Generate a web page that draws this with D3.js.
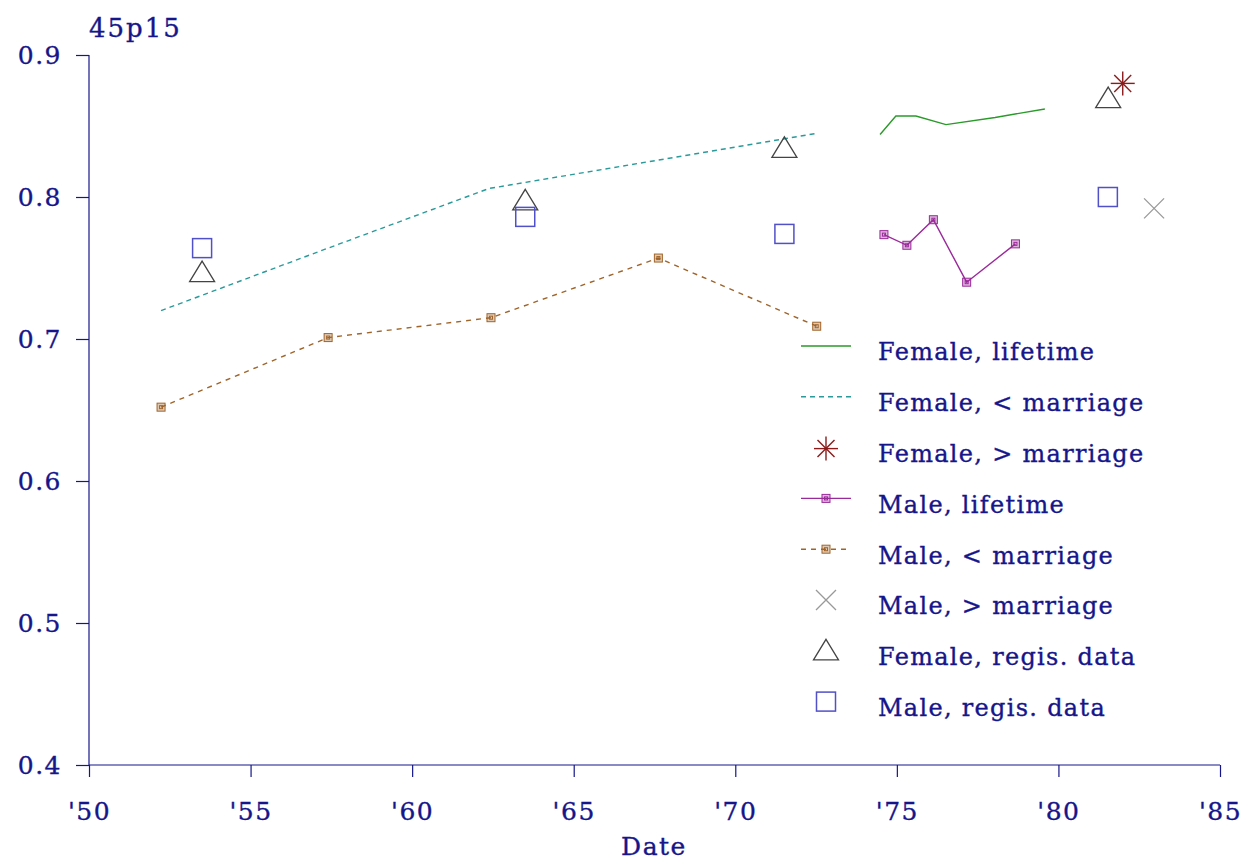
<!DOCTYPE html>
<html>
<head>
<meta charset="utf-8">
<script src="https://cdn.jsdelivr.net/npm/d3@7"></script>
<style>
  html, body { margin: 0; padding: 0; background: #fff; }
  svg text { font-family: "DejaVu Serif", "Liberation Serif", serif; fill: #16168a;
             stroke: #16168a; stroke-width: 0.35px; }
</style>
</head>
<body>
<svg id="chart" width="1247" height="862"></svg>
<script>
// ---- data: probability 45p15 by date ----
const femaleLifetimeYears  = [1974.48, 1974.97, 1975.59, 1976.52, 1978.04, 1979.58];
const femaleLifetimeValues = [0.844, 0.857, 0.857, 0.851, 0.856, 0.862];

const femaleBeforeYears  = [1952.23, 1957.40, 1962.38, 1967.62, 1972.56];
const femaleBeforeValues = [0.720, 0.764, 0.806, 0.826, 0.845];

const femaleAfterYears  = [1981.99];
const femaleAfterValues = [0.880];

const maleLifetimeYears  = [1974.60, 1975.31, 1976.13, 1977.16, 1978.67];
const maleLifetimeValues = [0.7735, 0.766, 0.784, 0.740, 0.767];

const maleBeforeYears  = [1952.23, 1957.40, 1962.44, 1967.62, 1972.52];
const maleBeforeValues = [0.652, 0.701, 0.715, 0.757, 0.709];

const maleAfterYears  = [1982.96];
const maleAfterValues = [0.792];

const femaleRegisYears  = [1953.5, 1963.5, 1971.52, 1981.54];
const femaleRegisValues = [0.7475, 0.798, 0.835, 0.870];

const maleRegisYears  = [1953.5, 1963.5, 1971.52, 1981.53];
const maleRegisValues = [0.764, 0.786, 0.774, 0.800];

const xTicks = [1950, 1955, 1960, 1965, 1970, 1975, 1980, 1985];
const yTicks = [0.4, 0.5, 0.6, 0.7, 0.8, 0.9];

const legendLabels = [
  "Female, lifetime", "Female, < marriage", "Female, > marriage",
  "Male, lifetime", "Male, < marriage", "Male, > marriage",
  "Female, regis. data", "Male, regis. data"
];

// ---- drawing ----
const navy = "#16168a";
const col = {
  fLife: "#2a9a2a", fBefore: "#2a9a9a", fAfter: "#8b1a1a",
  mLife: "#9a2a9a", mBefore: "#a0642a", mAfter: "#999999",
  fRegis: "#444444", mRegis: "#5050c8"
};

const svg = d3.select("#chart");
const x = d3.scaleLinear().domain([1950, 1985]).range([89, 1220]);
const y = d3.scaleLinear().domain([0.4, 0.9]).range([765, 55]);

const zip = (xs, vs) => xs.map((d, i) => [d, vs[i]]);
const line = d3.line().x(d => x(d[0])).y(d => y(d[1]));

// axes
const xAxis = svg.append("g").attr("transform", "translate(0,765)")
  .call(d3.axisBottom(x).tickValues(xTicks).tickSize(12).tickPadding(25)
    .tickFormat(d => "'" + String(d % 100).padStart(2, "0")));
const yAxis = svg.append("g").attr("transform", "translate(89,0)")
  .call(d3.axisLeft(y).tickValues(yTicks).tickSize(13).tickPadding(14)
    .tickFormat(d3.format(".1f")));
[xAxis, yAxis].forEach(g => {
  g.select(".domain").attr("stroke", navy).attr("stroke-width", 1.2);
  g.selectAll(".tick line").attr("stroke", navy).attr("stroke-width", 1.2);
  g.selectAll(".tick text").style("font-size", "25px").attr("fill", navy)
    .style("letter-spacing", "1.5px")
    .style("font-family", '"DejaVu Serif", serif');
});
xAxis.select(".domain").attr("d", "M89,0H1220");
yAxis.select(".domain").attr("d", "M0,55V765");

svg.append("text").attr("x", 654).attr("y", 855).attr("text-anchor", "middle")
  .style("font-size", "25px").style("letter-spacing", "1.5px").text("Date");
svg.append("text").attr("x", 89).attr("y", 37)
  .style("font-size", "26px").style("letter-spacing", "2px").text("45p15");

// marker helpers
function boxMarker(g, cx, cy, c) {
  g.append("rect").attr("x", cx - 4).attr("y", cy - 4).attr("width", 8).attr("height", 8)
    .attr("fill", c).attr("fill-opacity", 0.35).attr("stroke", c).attr("stroke-width", 1);
  g.append("rect").attr("x", cx - 1.5).attr("y", cy - 1.5).attr("width", 3).attr("height", 3)
    .attr("fill", "none").attr("stroke", c).attr("stroke-width", 1);
}
function triangle(g, cx, cy, c) {
  g.append("path")
    .attr("d", `M${cx},${cy - 10.5}L${cx + 12.5},${cy + 10}L${cx - 12.5},${cy + 10}Z`)
    .attr("fill", "none").attr("stroke", c).attr("stroke-width", 1.3);
}
function square(g, cx, cy, c) {
  g.append("rect").attr("x", cx - 9.5).attr("y", cy - 9.5).attr("width", 19).attr("height", 19)
    .attr("fill", "none").attr("stroke", c).attr("stroke-width", 1.5);
}
function star(g, cx, cy, c) {
  const r = 12;
  [0, 45, 90, 135].forEach(a => {
    const t = a * Math.PI / 180;
    g.append("line").attr("x1", cx - r * Math.cos(t)).attr("y1", cy - r * Math.sin(t))
      .attr("x2", cx + r * Math.cos(t)).attr("y2", cy + r * Math.sin(t))
      .attr("stroke", c).attr("stroke-width", 1.4);
  });
}
function cross(g, cx, cy, c) {
  const r = 10;
  g.append("path").attr("d", `M${cx - r},${cy - r}L${cx + r},${cy + r}M${cx - r},${cy + r}L${cx + r},${cy - r}`)
    .attr("stroke", c).attr("stroke-width", 1.3).attr("fill", "none");
}

const plot = svg.append("g");

// lines
plot.append("path").datum(zip(femaleLifetimeYears, femaleLifetimeValues)).attr("d", line)
  .attr("fill", "none").attr("stroke", col.fLife).attr("stroke-width", 1.4);
plot.append("path").datum(zip(femaleBeforeYears, femaleBeforeValues)).attr("d", line)
  .attr("fill", "none").attr("stroke", col.fBefore).attr("stroke-width", 1.4)
  .attr("stroke-dasharray", "5,4");
plot.append("path").datum(zip(maleLifetimeYears, maleLifetimeValues)).attr("d", line)
  .attr("fill", "none").attr("stroke", col.mLife).attr("stroke-width", 1.4);
plot.append("path").datum(zip(maleBeforeYears, maleBeforeValues)).attr("d", line)
  .attr("fill", "none").attr("stroke", col.mBefore).attr("stroke-width", 1.4)
  .attr("stroke-dasharray", "5,5");

// markers
zip(maleLifetimeYears, maleLifetimeValues).forEach(d => boxMarker(plot, x(d[0]), y(d[1]), col.mLife));
zip(maleBeforeYears, maleBeforeValues).forEach(d => boxMarker(plot, x(d[0]), y(d[1]), col.mBefore));
zip(femaleRegisYears, femaleRegisValues).forEach(d => triangle(plot, x(d[0]), y(d[1]), col.fRegis));
zip(maleRegisYears, maleRegisValues).forEach(d => square(plot, x(d[0]), y(d[1]), col.mRegis));
zip(femaleAfterYears, femaleAfterValues).forEach(d => star(plot, x(d[0]), y(d[1]), col.fAfter));
zip(maleAfterYears, maleAfterValues).forEach(d => cross(plot, x(d[0]), y(d[1]), col.mAfter));

// legend
const legend = svg.append("g");
const ly0 = 346, lstep = 50.8, lx1 = 801, lx2 = 851, lmx = 826;
legendLabels.forEach((lab, i) => {
  const yy = ly0 + i * lstep;
  const g = legend.append("g");
  if (i === 0) g.append("line").attr("x1", lx1).attr("x2", lx2).attr("y1", yy).attr("y2", yy)
    .attr("stroke", col.fLife).attr("stroke-width", 1.4);
  if (i === 1) g.append("line").attr("x1", lx1).attr("x2", lx2).attr("y1", yy).attr("y2", yy)
    .attr("stroke", col.fBefore).attr("stroke-width", 1.4).attr("stroke-dasharray", "5,4");
  if (i === 2) star(g, lmx, yy + 1, col.fAfter);
  if (i === 3) {
    g.append("line").attr("x1", lx1).attr("x2", lx2).attr("y1", yy).attr("y2", yy)
      .attr("stroke", col.mLife).attr("stroke-width", 1.4);
    boxMarker(g, lmx, yy, col.mLife);
  }
  if (i === 4) {
    g.append("line").attr("x1", lx1).attr("x2", lx2).attr("y1", yy).attr("y2", yy)
      .attr("stroke", col.mBefore).attr("stroke-width", 1.4).attr("stroke-dasharray", "5,5");
    boxMarker(g, lmx, yy, col.mBefore);
  }
  if (i === 5) cross(g, lmx, yy, col.mAfter);
  if (i === 6) triangle(g, lmx, yy - 1, col.fRegis);
  if (i === 7) square(g, lmx, yy, col.mRegis);
  g.append("text").attr("x", 878).attr("y", yy + 6).attr("dy", "0.35em")
    .style("font-size", "24px").style("letter-spacing", "1.3px").text(lab);
});
</script>
</body>
</html>
